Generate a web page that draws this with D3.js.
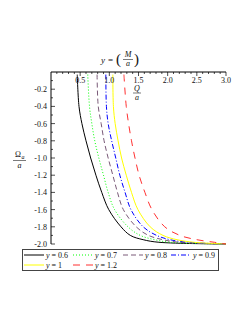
<!DOCTYPE html>
<html>
<head>
<meta charset="utf-8">
<script src="https://cdn.jsdelivr.net/npm/d3@7"></script>
<style>
  body { margin: 0; background: #fff; }
  svg text { font-family: "Liberation Serif", "DejaVu Serif", serif; fill: #111; }
</style>
</head>
<body>
<div id="chart"></div>
<script>
// Omega_a / a values (shared by all curves)
var omega = [-0.03, -0.4, -0.6, -0.8, -1.0, -1.2, -1.4, -1.6, -1.8, -1.9, -1.95, -1.98, -2.0];

// Q/a values per curve
var q06 = [0.45, 0.48, 0.53, 0.60, 0.68, 0.77, 0.87, 0.99, 1.20, 1.36, 1.58, 1.85, 3.0];
var q07 = [0.63, 0.66, 0.70, 0.75, 0.82, 0.90, 0.98, 1.09, 1.32, 1.53, 1.78, 2.05, 3.0];
var q08 = [0.79, 0.81, 0.86, 0.91, 0.98, 1.06, 1.14, 1.24, 1.46, 1.67, 1.92, 2.20, 3.0];
var q09 = [0.94, 0.95, 0.98, 1.04, 1.11, 1.18, 1.27, 1.37, 1.58, 1.81, 2.04, 2.35, 3.0];
var q10 = [1.06, 1.07, 1.10, 1.15, 1.21, 1.29, 1.38, 1.49, 1.70, 1.92, 2.16, 2.45, 3.0];
var q12 = [1.25, 1.29, 1.33, 1.38, 1.44, 1.51, 1.61, 1.73, 1.95, 2.21, 2.50, 2.80, 3.0];

var labels = ["y = 0.6", "y = 0.7", "y = 0.8", "y = 0.9", "y = 1", "y = 1.2"];
var xTicks = [0.5, 1.0, 1.5, 2.0, 2.5, 3.0];
var yTicks = [-0.2, -0.4, -0.6, -0.8, -1.0, -1.2, -1.4, -1.6, -1.8, -2.0];

var series = [
    {q: q06, colour: "#000000", dash: null},
    {q: q07, colour: "#00ff00", dash: "1,2"},
    {q: q08, colour: "#7a5a78", dash: "5,3"},
    {q: q09, colour: "#0000ff", dash: "5,2,1,2"},
    {q: q10, colour: "#ffff00", dash: null},
    {q: q12, colour: "#ff3030", dash: "7,6"}
];
series.forEach(function(s, i) { s.label = labels[i]; });

var W = 249, H = 323;
var svg = d3.select("#chart").append("svg").attr("width", W).attr("height", H);

var x = d3.scaleLinear().domain([0, 3]).range([51, 226]);
var y = d3.scaleLinear().domain([0, -2]).range([72, 244]);

// curves
var line = d3.line()
    .x(d => x(d[0]))
    .y(d => y(d[1]))
    .curve(d3.curveCatmullRom.alpha(0.5));

series.forEach(function(s) {
    var pts = s.q.map((v, i) => [v, omega[i]]);
    svg.append("path")
        .datum(pts)
        .attr("fill", "none")
        .attr("stroke", s.colour)
        .attr("stroke-width", 1)
        .attr("stroke-dasharray", s.dash)
        .attr("d", line);
});

// x axis (top, ticks pointing down)
var xAxis = svg.append("g").attr("transform", "translate(0,72)");
xAxis.append("line").attr("x1", 51).attr("x2", 226).attr("stroke", "#000");
xAxis.selectAll(".minor").data(d3.range(1, 31).map(d => d / 10))
    .enter().append("line")
    .attr("x1", d => x(d)).attr("x2", d => x(d))
    .attr("y1", 0).attr("y2", d => Math.abs(d * 2 - Math.round(d * 2)) < 1e-6 ? 4 : 2)
    .attr("stroke", "#000").attr("stroke-width", 0.7);
xAxis.selectAll(".lbl").data(xTicks)
    .enter().append("text")
    .attr("x", d => x(d)).attr("y", 11)
    .attr("text-anchor", "middle")
    .attr("font-size", 8)
    .text(d => d.toFixed(1));

// y axis (left, ticks pointing right)
var yAxis = svg.append("g").attr("transform", "translate(51,0)");
yAxis.append("line").attr("y1", 72).attr("y2", 244).attr("stroke", "#000");
yAxis.selectAll(".minor").data(d3.range(1, 21).map(d => -d / 10))
    .enter().append("line")
    .attr("y1", d => y(d)).attr("y2", d => y(d))
    .attr("x1", 0).attr("x2", (d, i) => (i % 2 === 1) ? 4 : 2)
    .attr("stroke", "#000").attr("stroke-width", 0.7);
yAxis.selectAll(".lbl").data(yTicks)
    .enter().append("text")
    .attr("x", -4).attr("y", d => y(d) + 3)
    .attr("text-anchor", "end")
    .attr("font-size", 8)
    .text(d => "-" + Math.abs(d).toFixed(1));

// title: y = ( M / a )
var title = svg.append("g").attr("font-style", "italic");
title.append("text").attr("x", 101).attr("y", 63).attr("font-size", 9).text("y");
title.append("text").attr("x", 108).attr("y", 63).attr("font-size", 9).attr("font-style", "normal").text("=");
title.append("text").attr("x", 116).attr("y", 64).attr("font-size", 15).attr("font-style", "normal")
    .attr("font-weight", 100).text("(");
title.append("text").attr("x", 128).attr("y", 57).attr("font-size", 8).attr("text-anchor", "middle").text("M");
title.append("line").attr("x1", 123).attr("x2", 133).attr("y1", 59.5).attr("y2", 59.5).attr("stroke", "#222").attr("stroke-width", 0.6);
title.append("text").attr("x", 128).attr("y", 66).attr("font-size", 8).attr("text-anchor", "middle").text("a");
title.append("text").attr("x", 134).attr("y", 64).attr("font-size", 15).attr("font-style", "normal").text(")");

// Q / a label
var ql = svg.append("g").attr("font-style", "italic").attr("font-size", 8);
ql.append("text").attr("x", 137).attr("y", 91).attr("text-anchor", "middle").text("Q");
ql.append("line").attr("x1", 133).attr("x2", 141).attr("y1", 93).attr("y2", 93).attr("stroke", "#222").attr("stroke-width", 0.6);
ql.append("text").attr("x", 137).attr("y", 100).attr("text-anchor", "middle").text("a");

// Omega_a / a label
var ol = svg.append("g").attr("font-size", 8);
ol.append("text").attr("x", 15).attr("y", 157).text("Ω");
ol.append("text").attr("x", 21.5).attr("y", 159).attr("font-size", 6).attr("font-style", "italic").text("a");
ol.append("line").attr("x1", 13).attr("x2", 26).attr("y1", 160.5).attr("y2", 160.5).attr("stroke", "#222").attr("stroke-width", 0.6);
ol.append("text").attr("x", 19.5).attr("y", 168).attr("font-style", "italic").attr("text-anchor", "middle").text("a");

// legend
var legend = svg.append("g");
legend.append("rect").attr("x", 22.5).attr("y", 249.5).attr("width", 196).attr("height", 21)
    .attr("fill", "none").attr("stroke", "#444").attr("stroke-width", 1);
var slotX = [23, 72, 122, 170];
series.forEach(function(s, i) {
    var col = i % 4, row = Math.floor(i / 4);
    var lx = slotX[col], ly = 255 + row * 10;
    legend.append("line")
        .attr("x1", lx + 1).attr("x2", lx + 21)
        .attr("y1", ly).attr("y2", ly)
        .attr("stroke", s.colour).attr("stroke-width", 1)
        .attr("stroke-dasharray", s.dash);
    var t = legend.append("text").attr("x", lx + 23).attr("y", ly + 3).attr("font-size", 8);
    t.append("tspan").attr("font-style", "italic").text("y");
    t.append("tspan").text(s.label.slice(1));
});
</script>
</body>
</html>
